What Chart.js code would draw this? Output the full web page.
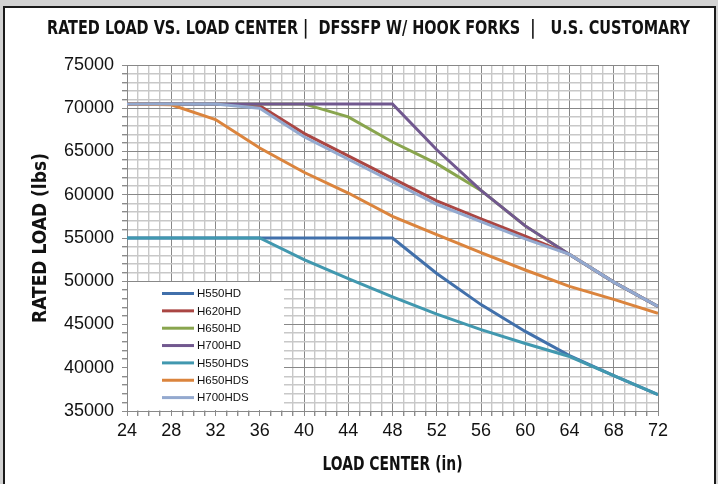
<!DOCTYPE html>
<html>
<head>
<meta charset="utf-8">
<script src="https://cdn.jsdelivr.net/npm/chart.js@4.4.1/dist/chart.umd.min.js"></script>
<style>
	html, body {
		margin: 0;
		padding: 0;
		width: 718px;
		height: 484px;
		overflow: hidden;
		background: #d2d2d2;
	}
	.frame {
		position: absolute;
		left: 3px;
		top: 6px;
		width: 709px;
		height: 490px;
		border: 2px solid #1a1a1a;
		background: #fff;
	}
	#loadChart {
		position: absolute;
		left: 0;
		top: 0;
	}
</style>
</head>
<body>
<div class="frame"></div>
<canvas id="loadChart" width="718" height="484"></canvas>
<script>
const loadCenters = [24, 28, 32, 36, 40, 44, 48, 52, 56, 60, 64, 68, 72]

const h550hd = [55000, 55000, 55000, 55000, 55000, 55000, 55000, 50900, 47300, 44200, 41400, 39100, 36900]
const h620hd = [70500, 70500, 70500, 70300, 67100, 64500, 61900, 59300, 57200, 55200, 53100, 49900, 47100]
const h650hd = [70500, 70500, 70500, 70500, 70500, 69000, 66100, 63600, 60500, 56400, 53100, 49900, 47100]
const h700hd = [70500, 70500, 70500, 70500, 70500, 70500, 70500, 65200, 60500, 56400, 53100, 49900, 47100]
const h550hds = [55000, 55000, 55000, 55000, 52500, 50300, 48200, 46200, 44400, 42800, 41300, 39100, 36900]
const h650hds = [70500, 70400, 68700, 65400, 62600, 60200, 57500, 55400, 53300, 51300, 49400, 47900, 46300]
const h700hds = [70500, 70500, 70500, 70000, 66700, 64100, 61500, 58900, 56900, 54900, 53100, 49900, 47100]

const seriesNames = ['H550HD', 'H620HD', 'H650HD', 'H700HD', 'H550HDS', 'H650HDS', 'H700HDS']
const seriesValues = [h550hd, h620hd, h650hd, h700hd, h550hds, h650hds, h700hds]
const seriesColors = ['#4170ab', '#aa4643', '#89a54e', '#71588f', '#4198af', '#db843d', '#93a9cf']

const xTickLabels = [24, 28, 32, 36, 40, 44, 48, 52, 56, 60, 64, 68, 72]
const yTickLabels = [35000, 40000, 45000, 50000, 55000, 60000, 65000, 70000, 75000]

const chartTitle = 'RATED LOAD VS. LOAD CENTER |  DFSSFP W/ HOOK FORKS  |   U.S. CUSTOMARY'
const xTitle = 'LOAD CENTER (in)'
const yTitle = 'RATED LOAD (lbs)'

const narrowBold = '"DejaVu Sans Condensed", "Liberation Sans", sans-serif'
const plainFont = '"Liberation Sans", Arial, sans-serif'

// draw a line of text squeezed sideways to a given width (the original uses a condensed face)
function drawSqueezed(ctx, text, cx, cy, width) {
	const w = ctx.measureText(text).width
	const k = Math.min(1, width / w)
	ctx.save()
	ctx.translate(cx, cy)
	ctx.scale(k, 1)
	ctx.fillText(text, 0, 0)
	ctx.restore()
}

// titles drawn by hand so they can sit where the original has them
const chartTexts = {
	id: 'chartTexts',
	afterDraw(chart) {
		const { ctx, chartArea } = chart
		ctx.save()
		ctx.fillStyle = '#111'
		ctx.textAlign = 'center'
		ctx.textBaseline = 'middle'
		ctx.font = 'bold 19.5px ' + narrowBold
		drawSqueezed(ctx, chartTitle, 368.5, 29, 643)
		ctx.font = 'bold 19px ' + narrowBold
		drawSqueezed(ctx, xTitle, (chartArea.left + chartArea.right) / 2, 465, 140)
		ctx.restore()
	},
}

// legend drawn inside the plot, bottom-left, on a white box
const insideLegend = {
	id: 'insideLegend',
	beforeDatasetsDraw(chart) {
		const { ctx, chartArea } = chart
		ctx.save()
		ctx.fillStyle = '#ffffff'
		ctx.fillRect(chartArea.left + 1, 282, 284 - chartArea.left - 1, chartArea.bottom - 282 - 1)
		ctx.restore()
	},
	afterDatasetsDraw(chart) {
		const { ctx } = chart
		ctx.save()
		ctx.font = '11.5px ' + plainFont
		ctx.textBaseline = 'middle'
		ctx.lineCap = 'butt'
		seriesNames.forEach((name, i) => {
			const y = 293.5 + i * 17.35
			ctx.strokeStyle = seriesColors[i]
			ctx.lineWidth = 3
			ctx.beginPath()
			ctx.moveTo(162, y)
			ctx.lineTo(194, y)
			ctx.stroke()
			ctx.fillStyle = '#111'
			ctx.fillText(name, 197, y + 0.5)
		})
		ctx.restore()
	},
}

const ctx = document.getElementById('loadChart').getContext('2d')
const loadChart = new Chart(ctx, {
	type: 'line',
	data: {
		datasets: seriesNames.map((name, i) => ({
			label: name,
			data: seriesValues[i].map((v, j) => ({ x: loadCenters[j], y: v })),
			borderColor: seriesColors[i],
			backgroundColor: seriesColors[i],
			borderWidth: 3,
			pointRadius: 0,
			tension: 0,
			fill: false,
			// later series sit on top, like the original
			order: seriesNames.length - i,
		})),
	},
	options: {
		responsive: false,
		animation: false,
		layout: {
			padding: { left: 0, right: 60, top: 65, bottom: 0 },
		},
		plugins: {
			legend: { display: false },
			tooltip: { enabled: false },
			title: { display: false },
		},
		scales: {
			x: {
				type: 'linear',
				min: xTickLabels[0],
				max: xTickLabels[xTickLabels.length - 1],
				afterFit: scale => {
					scale.height = 73
				},
				ticks: {
					stepSize: 1,
					autoSkip: false,
					maxRotation: 0,
					padding: 4,
					color: '#111',
					font: { family: plainFont, size: 18 },
					callback: v => (xTickLabels.includes(v) ? String(v) : ''),
				},
				grid: {
					color: c => (c.tick && xTickLabels.includes(c.tick.value) ? '#888888' : '#c8c8c8'),
					lineWidth: c => (c.tick && xTickLabels.includes(c.tick.value) ? 1 : 1.4),
					tickColor: '#8c8c8c',
					tickLength: 5,
				},
				border: { color: '#888888' },
				title: { display: false },
			},
			y: {
				min: yTickLabels[0],
				max: yTickLabels[yTickLabels.length - 1],
				afterFit: scale => {
					scale.width = 127
				},
				ticks: {
					stepSize: 1000,
					autoSkip: false,
					padding: 8,
					color: '#111',
					font: { family: plainFont, size: 18 },
					callback: v => (yTickLabels.includes(v) ? String(v) : ''),
				},
				grid: {
					color: c => (c.tick && yTickLabels.includes(c.tick.value) ? '#888888' : '#c8c8c8'),
					lineWidth: c => (c.tick && yTickLabels.includes(c.tick.value) ? 1 : 1.4),
					tickColor: '#8c8c8c',
					tickLength: 5,
				},
				border: { color: '#888888' },
				title: {
					display: true,
					text: yTitle,
					color: '#111',
					font: { family: narrowBold, size: 19, weight: 'bold', lineHeight: 1.2 },
					padding: { top: 30, bottom: 0 },
				},
			},
		},
	},
	plugins: [insideLegend, chartTexts],
})
</script>
</body>
</html>
